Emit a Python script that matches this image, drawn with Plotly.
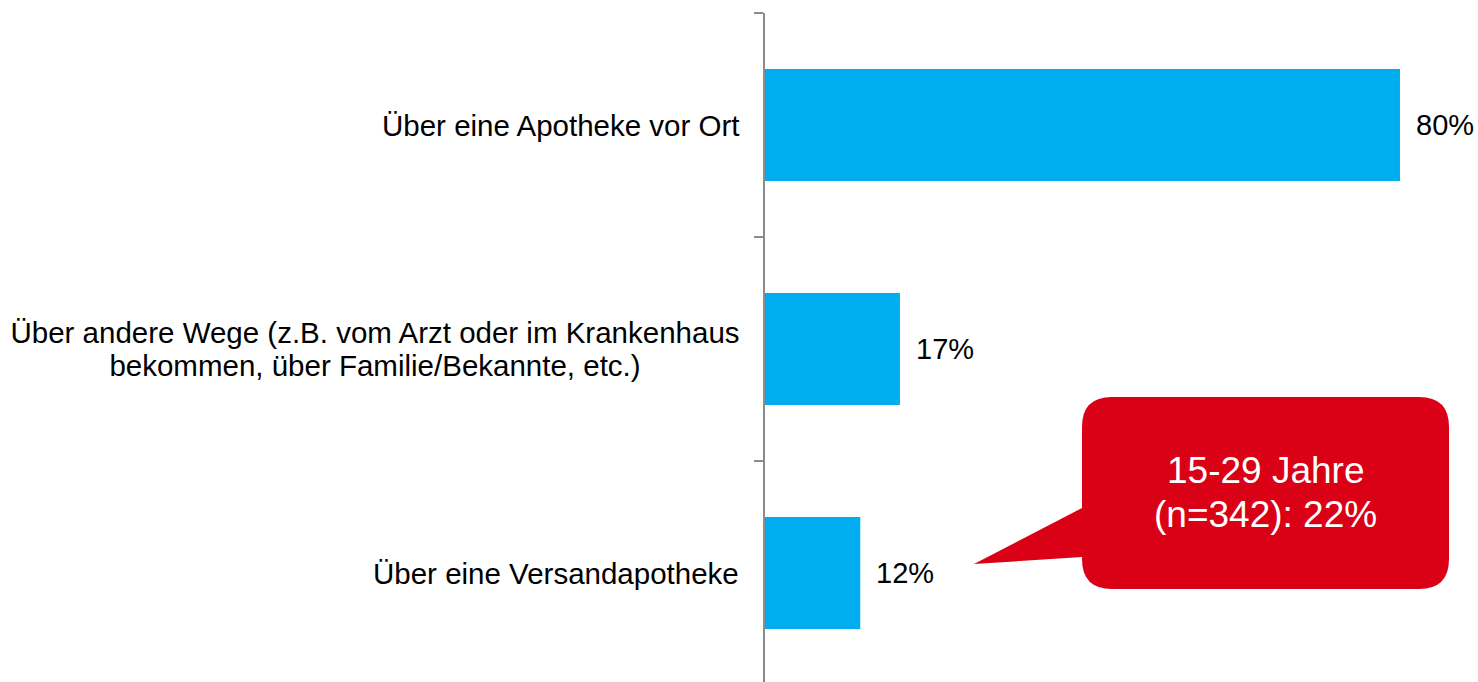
import plotly.graph_objects as go

# Survey results: where the medication was obtained
categories = [
    "Über eine Apotheke vor Ort",
    "Über andere Wege (z.B. vom Arzt oder im Krankenhaus<br>bekommen, über Familie/Bekannte, etc.)",
    "Über eine Versandapotheke",
]
values = [80, 17, 12]
callout_lines = ["15-29 Jahre", "(n=342): 22%"]

BAR_COLOR = "#00AEEF"
CALLOUT_COLOR = "#DA0016"
AXIS_COLOR = "#8C8C8C"
FONT = "Arial, Liberation Sans, sans-serif"

W, H = 1478, 682
PLOT_L, PLOT_T = 765, 13
PLOT_W, PLOT_H = W - PLOT_L, H - PLOT_T
X_MAX = 89.83
BAND_PX = 224
Y_BOTTOM = -0.5 + PLOT_H / BAND_PX
LABEL_SIZE = 29.5
LABEL_LINE_PX = 33


def px(x):
    return (x - PLOT_L) / PLOT_W


def py(y):
    return 1 - (y - PLOT_T) / PLOT_H


fig = go.Figure(
    go.Bar(
        x=values,
        y=categories,
        orientation="h",
        marker=dict(color=BAR_COLOR, line=dict(width=0)),
        width=0.5,
        hoverinfo="skip",
    )
)

# category labels, centred lines to the left of the axis
for cat in categories:
    lines = cat.split("<br>")
    n = len(lines)
    for i, line in enumerate(lines):
        fig.add_annotation(
            x=0, y=cat, xref="paper", yref="y", text=line, showarrow=False,
            xanchor="right", yanchor="middle", xshift=-25,
            yshift=((n - 1) / 2 - i) * LABEL_LINE_PX,
            width=728 if n > 1 else None, align="center", borderpad=0,
            font=dict(family=FONT, size=LABEL_SIZE, color="#000000"),
        )

# value labels to the right of each bar
for cat, v in zip(categories, values):
    fig.add_annotation(
        x=v, y=cat, xref="x", yref="y", text=f"{v}%", showarrow=False,
        xanchor="left", yanchor="middle", xshift=14,
        font=dict(family=FONT, size=29, color="#000000"),
    )

# speech-bubble callout
L, R, T, B, r = 1082, 1449, 397, 589, 30
tail_top, tail_bot, tip = 508, 557, (974, 564)
pts = [
    ("M", (L + r, T)), ("L", (R - r, T)), ("Q", (R, T), (R, T + r)),
    ("L", (R, B - r)), ("Q", (R, B), (R - r, B)),
    ("L", (L + r, B)), ("Q", (L, B), (L, B - r)),
    ("L", (L, tail_bot)), ("L", tip), ("L", (L, tail_top)),
    ("L", (L, T + r)), ("Q", (L, T), (L + r, T)),
]
path = ""
for cmd, *coords in pts:
    path += cmd + " " + " ".join(f"{px(a):.5f},{py(b):.5f}" for a, b in coords) + " "
path += "Z"
fig.add_shape(type="path", path=path, xref="paper", yref="paper",
              fillcolor=CALLOUT_COLOR, line=dict(width=0), layer="above")

cx = px((L + R) / 2)
for line, ypix in zip(callout_lines, [470, 514]):
    fig.add_annotation(
        x=cx, y=py(ypix), xref="paper", yref="paper", text=line,
        showarrow=False, xanchor="center", yanchor="middle",
        font=dict(family=FONT, size=37, color="#FFFFFF"),
    )

fig.update_layout(
    width=W, height=H,
    margin=dict(l=PLOT_L, r=0, t=PLOT_T, b=0, pad=0),
    paper_bgcolor="white", plot_bgcolor="white",
    showlegend=False,
    bargap=0.5,
    xaxis=dict(range=[0, X_MAX], visible=False, fixedrange=True),
    yaxis=dict(
        type="category",
        range=[Y_BOTTOM, -0.5],
        showline=True, linecolor=AXIS_COLOR, linewidth=2,
        ticks="outside", tickson="boundaries", ticklen=9, tickwidth=2,
        tickcolor=AXIS_COLOR, showticklabels=False,
        showgrid=False, zeroline=False,
        fixedrange=True,
    ),
)

fig.write_html("out.html")
